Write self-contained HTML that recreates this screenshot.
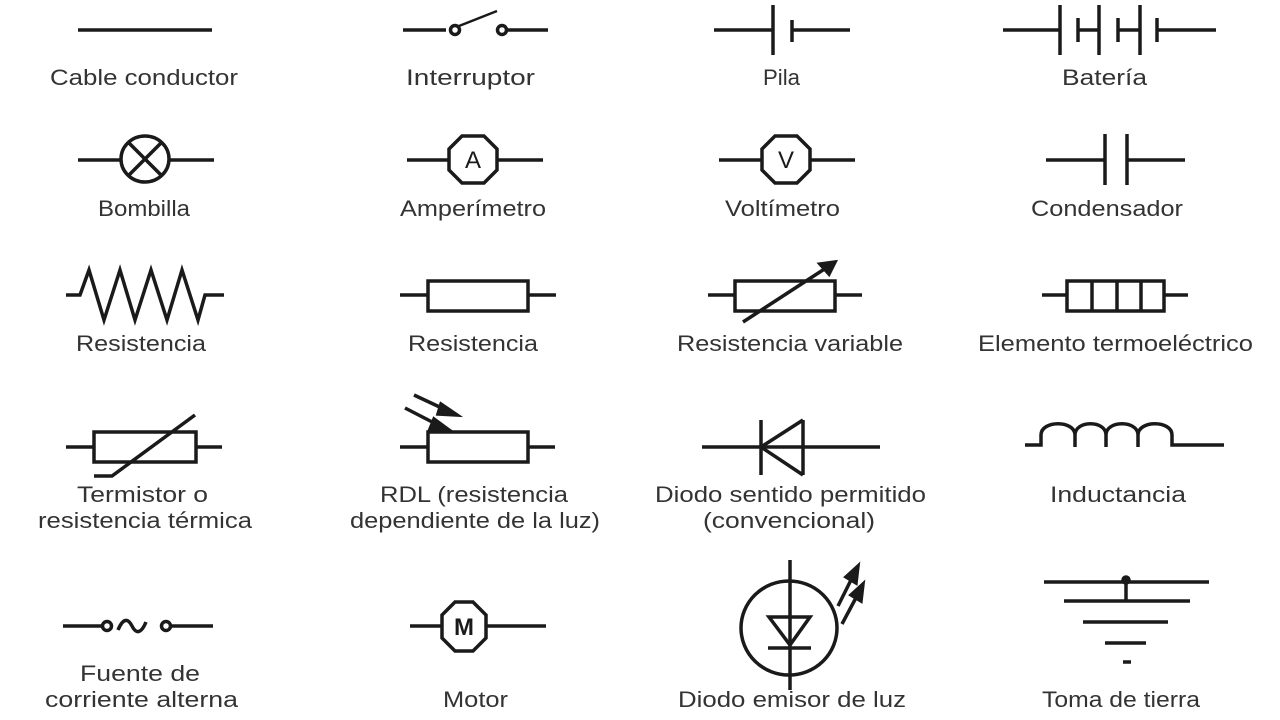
<!DOCTYPE html>
<html><head><meta charset="utf-8"><style>html,body{margin:0;padding:0;background:#fff}svg{display:block}</style></head>
<body>
<svg width="1280" height="720" viewBox="0 0 1280 720" xmlns="http://www.w3.org/2000/svg">
<g stroke="#1a1a1a" stroke-width="3.5" fill="none" stroke-linecap="butt">
<!-- Row 1 -->
<line x1="78" y1="30" x2="212" y2="30"/>
<line x1="403" y1="30" x2="446" y2="30"/>
<circle cx="455" cy="30" r="4.5"/>
<line x1="459" y1="26" x2="497" y2="11" stroke-width="2.5"/>
<circle cx="502" cy="30" r="4.5"/>
<line x1="507" y1="30" x2="548" y2="30"/>
<line x1="714" y1="30" x2="773" y2="30"/>
<line x1="773" y1="5" x2="773" y2="55"/>
<line x1="792" y1="20" x2="792" y2="42"/>
<line x1="792" y1="30" x2="850" y2="30"/>
<line x1="1003" y1="30" x2="1060" y2="30"/>
<line x1="1060" y1="5" x2="1060" y2="55"/>
<line x1="1078" y1="18" x2="1078" y2="42"/>
<line x1="1078" y1="30" x2="1099" y2="30"/>
<line x1="1099" y1="5" x2="1099" y2="55"/>
<line x1="1118" y1="18" x2="1118" y2="42"/>
<line x1="1118" y1="30" x2="1140" y2="30"/>
<line x1="1140" y1="5" x2="1140" y2="55"/>
<line x1="1157" y1="18" x2="1157" y2="42"/>
<line x1="1157" y1="30" x2="1216" y2="30"/>
<!-- Row 2 -->
<line x1="78" y1="160" x2="121" y2="160"/>
<ellipse cx="145" cy="159" rx="24" ry="23"/>
<line x1="129" y1="143" x2="161" y2="175"/>
<line x1="161" y1="143" x2="129" y2="175"/>
<line x1="169" y1="160" x2="214" y2="160"/>
<line x1="407" y1="160" x2="449" y2="160"/>
<polygon points="462,136 484,136 497,149 497,170 484,183 462,183 449,170 449,149"/>
<line x1="497" y1="160" x2="543" y2="160"/>
<line x1="719" y1="160" x2="762" y2="160"/>
<polygon points="775,136 797,136 810,149 810,170 797,183 775,183 762,170 762,149"/>
<line x1="810" y1="160" x2="855" y2="160"/>
<line x1="1046" y1="160" x2="1105" y2="160"/>
<line x1="1105" y1="134" x2="1105" y2="185"/>
<line x1="1127" y1="134" x2="1127" y2="185"/>
<line x1="1127" y1="160" x2="1185" y2="160"/>
<!-- Row 3 -->
<polyline points="66,295 80,295 89,270 104,320 120,270 135,320 151,270 167,320 182,270 198,320 205,295 224,295"/>
<line x1="400" y1="295" x2="428" y2="295"/>
<rect x="428" y="281" width="100" height="30"/>
<line x1="528" y1="295" x2="556" y2="295"/>
<line x1="708" y1="295" x2="735" y2="295"/>
<rect x="735" y="281" width="100" height="30"/>
<line x1="835" y1="295" x2="862" y2="295"/>
<line x1="743" y1="322" x2="826" y2="268"/>
<polygon points="835,262 820,264 829,274" fill="#1a1a1a"/>
<line x1="1042" y1="295" x2="1067" y2="295"/>
<rect x="1067" y="281" width="97" height="30"/>
<line x1="1092" y1="281" x2="1092" y2="311"/>
<line x1="1117" y1="281" x2="1117" y2="311"/>
<line x1="1141" y1="281" x2="1141" y2="311"/>
<line x1="1164" y1="295" x2="1188" y2="295"/>
<!-- Row 4 -->
<line x1="66" y1="447" x2="94" y2="447"/>
<rect x="94" y="432" width="102" height="30"/>
<line x1="196" y1="447" x2="222" y2="447"/>
<polyline points="94,476 112,476 195,415"/>
<line x1="400" y1="447" x2="428" y2="447"/>
<rect x="428" y="432" width="100" height="30"/>
<line x1="528" y1="447" x2="555" y2="447"/>
<line x1="414" y1="395" x2="446" y2="410"/>
<polygon points="457,415 441,404 438,414" fill="#1a1a1a"/>
<line x1="405" y1="408" x2="438" y2="425"/>
<polygon points="449,430 434,419 430,429" fill="#1a1a1a"/>
<line x1="702" y1="447" x2="880" y2="447"/>
<line x1="761" y1="420" x2="761" y2="475"/>
<line x1="803" y1="420" x2="803" y2="475"/>
<line x1="761" y1="447" x2="803" y2="420"/>
<line x1="761" y1="447" x2="803" y2="475"/>
<path d="M1025,445 H1041 V435 C1041,420 1075,420 1075,435 V447 M1075,435 C1075,420 1106,420 1106,435 V447 M1106,435 C1106,420 1138,420 1138,435 V447 M1138,435 C1138,420 1172,420 1172,435 V445 H1224"/>
<!-- Row 5 -->
<line x1="63" y1="626" x2="102" y2="626"/>
<circle cx="107" cy="626" r="4.5"/>
<path d="M118,630 C123,618 128,618 132,626 C136,634 141,634 146,622"/>
<circle cx="166" cy="626" r="4.5"/>
<line x1="171" y1="626" x2="213" y2="626"/>
<line x1="410" y1="626" x2="442" y2="626"/>
<polygon points="455,602 473,602 486,615 486,638 473,651 455,651 442,638 442,615"/>
<line x1="486" y1="626" x2="546" y2="626"/>
<line x1="790" y1="560" x2="790" y2="690"/>
<ellipse cx="789" cy="628" rx="48" ry="47"/>
<polygon points="769,617 810,617 790,645"/>
<line x1="768" y1="648" x2="811" y2="648"/>
<line x1="838" y1="606" x2="853" y2="576"/>
<polygon points="858,566 846,577 856,583" fill="#1a1a1a"/>
<line x1="842" y1="624" x2="858" y2="594"/>
<polygon points="863,584 851,595 861,601" fill="#1a1a1a"/>
<line x1="1044" y1="582" x2="1209" y2="582"/>
<line x1="1126" y1="582" x2="1126" y2="600"/>
<circle cx="1126" cy="580" r="3" fill="#1a1a1a"/>
<line x1="1064" y1="601" x2="1190" y2="601"/>
<line x1="1083" y1="622" x2="1168" y2="622"/>
<line x1="1105" y1="643" x2="1146" y2="643"/>
<line x1="1123" y1="662" x2="1131" y2="662"/>
</g>
<g font-family="'Liberation Sans', 'DejaVu Sans', sans-serif" font-size="22" fill="#333">
<text x="50" y="85" textLength="188" lengthAdjust="spacingAndGlyphs">Cable conductor</text>
<text x="406" y="85" textLength="129" lengthAdjust="spacingAndGlyphs">Interruptor</text>
<text x="763" y="85" textLength="37" lengthAdjust="spacingAndGlyphs">Pila</text>
<text x="1062" y="85" textLength="85" lengthAdjust="spacingAndGlyphs">Batería</text>
<text x="98" y="216" textLength="92" lengthAdjust="spacingAndGlyphs">Bombilla</text>
<text x="400" y="216" textLength="146" lengthAdjust="spacingAndGlyphs">Amperímetro</text>
<text x="725" y="216" textLength="115" lengthAdjust="spacingAndGlyphs">Voltímetro</text>
<text x="1031" y="216" textLength="152" lengthAdjust="spacingAndGlyphs">Condensador</text>
<text x="76" y="351" textLength="130" lengthAdjust="spacingAndGlyphs">Resistencia</text>
<text x="408" y="351" textLength="130" lengthAdjust="spacingAndGlyphs">Resistencia</text>
<text x="677" y="351" textLength="226" lengthAdjust="spacingAndGlyphs">Resistencia variable</text>
<text x="978" y="351" textLength="275" lengthAdjust="spacingAndGlyphs">Elemento termoeléctrico</text>
<text x="77" y="502" textLength="131" lengthAdjust="spacingAndGlyphs">Termistor o</text>
<text x="38" y="528" textLength="214" lengthAdjust="spacingAndGlyphs">resistencia térmica</text>
<text x="380" y="502" textLength="188" lengthAdjust="spacingAndGlyphs">RDL (resistencia</text>
<text x="350" y="528" textLength="250" lengthAdjust="spacingAndGlyphs">dependiente de la luz)</text>
<text x="655" y="502" textLength="271" lengthAdjust="spacingAndGlyphs">Diodo sentido permitido</text>
<text x="703" y="528" textLength="172" lengthAdjust="spacingAndGlyphs">(convencional)</text>
<text x="1050" y="502" textLength="136" lengthAdjust="spacingAndGlyphs">Inductancia</text>
<text x="80" y="681" textLength="120" lengthAdjust="spacingAndGlyphs">Fuente de</text>
<text x="45" y="707" textLength="193" lengthAdjust="spacingAndGlyphs">corriente alterna</text>
<text x="443" y="707" textLength="65" lengthAdjust="spacingAndGlyphs">Motor</text>
<text x="678" y="707" textLength="228" lengthAdjust="spacingAndGlyphs">Diodo emisor de luz</text>
<text x="1042" y="707" textLength="158" lengthAdjust="spacingAndGlyphs">Toma de tierra</text>
</g>
<g font-family="'Liberation Sans', sans-serif" font-size="24" fill="#1a1a1a" text-anchor="middle">
<text x="473" y="168">A</text>
<text x="786" y="168">V</text>
<text x="464" y="635" font-weight="bold">M</text>
</g>
</svg>
</body></html>
